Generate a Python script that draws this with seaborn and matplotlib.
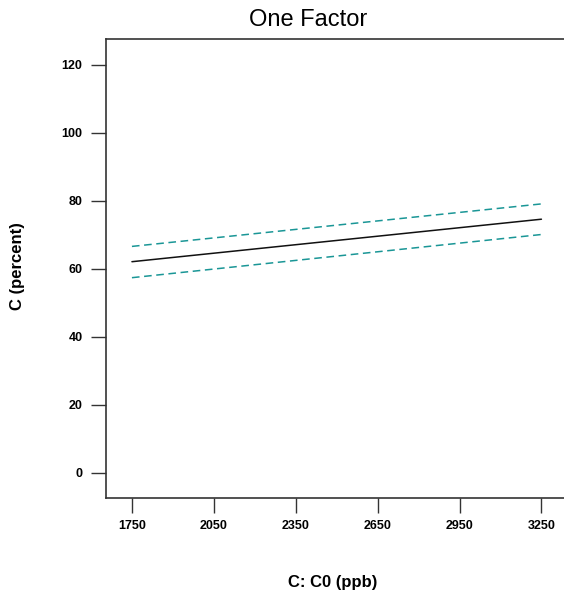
import matplotlib
matplotlib.use("Agg")
import matplotlib.pyplot as plt
import seaborn as sns
import pandas as pd

sns.set_theme(style="white")
plt.rcParams['font.family'] = ['Liberation Sans', 'DejaVu Sans']
plt.rcParams['text.color'] = 'black'
plt.rcParams['xtick.color'] = 'black'
plt.rcParams['ytick.color'] = 'black'

co_ppb = [1750, 3250]
predicted = [62.0, 74.5]
upper_ci = [66.5, 79.0]
lower_ci = [57.3, 70.0]
x_ticks = [1750, 2050, 2350, 2650, 2950, 3250]
y_ticks = [0, 20, 40, 60, 80, 100, 120]

df = pd.DataFrame({"x": co_ppb, "pred": predicted, "up": upper_ci, "lo": lower_ci})

fig = plt.figure(figsize=(5.64, 5.96), dpi=100)
ax = fig.add_axes([106/564, 1-498/596, 1.02 - 106/564, (498-39)/596])

sns.lineplot(data=df, x="x", y="pred", ax=ax, color="#111111", linewidth=1.1)
sns.lineplot(data=df, x="x", y="up", ax=ax, color="#1a9696", linewidth=1.1, linestyle=(0, (5, 3)))
sns.lineplot(data=df, x="x", y="lo", ax=ax, color="#1a9696", linewidth=1.1, linestyle=(0, (5, 3)))

ax.set_xlim(1655, 3374)
ax.set_ylim(-7.5, 127.5)
ax.set_xticks(x_ticks)
ax.set_yticks(y_ticks)
ax.set_xticklabels([str(v) for v in x_ticks], fontsize=9, fontweight='bold')
ax.set_yticklabels([str(v) for v in y_ticks], fontsize=9, fontweight='bold')
ax.tick_params(axis='both', direction='out', length=11, width=1, color='#333333', bottom=True, left=True)
ax.tick_params(axis='y', pad=6)
ax.tick_params(axis='x', pad=5)
for s in ax.spines.values():
    s.set_color('#333333')
    s.set_linewidth(1.2)
ax.set_xlabel("")
ax.set_ylabel("")

fig.text(308/564, 1-20/596, "One Factor", ha='center', va='center', fontsize=17, color='black')
fig.text(333/564, 1-583/596, "C: C0 (ppb)", ha='center', va='center', fontsize=12, fontweight='bold', color='black')
fig.text(18/564, 1-266/596, "C (percent)", ha='center', va='center', fontsize=12, fontweight='bold', rotation=90, color='black')

fig.savefig("out.png", dpi=100)
